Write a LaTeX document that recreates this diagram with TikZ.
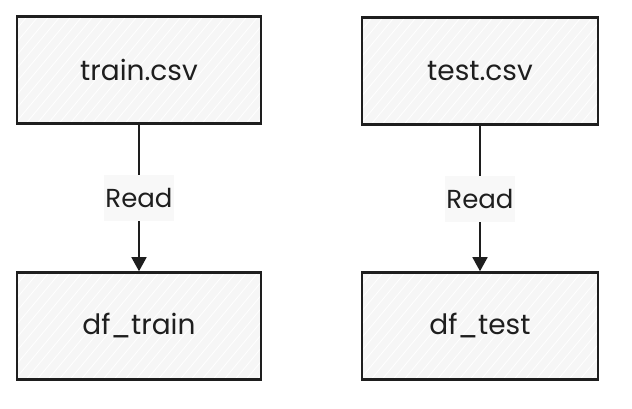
\documentclass[tikz,border=0pt]{standalone}
\usepackage{fontspec}
\setmainfont{Poppins}
\usetikzlibrary{arrows.meta}
\definecolor{ink}{HTML}{1E1E1E}
\definecolor{boxfill}{HTML}{F6F6F6}
\definecolor{lblfill}{HTML}{F8F8F8}
\tikzset{
  hatch/.style={white, line width=0.8pt},
  box/.style={draw=ink, line width=2.6pt, fill=boxfill, minimum height=107pt,
    font=\fontsize{28}{32}\selectfont, text=ink,
    path picture={
      \foreach \k in {0,...,40}{
        \draw[hatch] ([xshift=\k*11pt-200pt]path picture bounding box.south west) -- ++(200pt,240pt);
      }
    }},
  conn/.style={draw=ink, line width=1.6pt, -{Triangle[width=15pt,length=14pt]}},
  lbl/.style={fill=lblfill, font=\fontsize{26}{30}\selectfont, text=ink,
    minimum height=46pt, inner xsep=1pt, inner ysep=2pt}
}
\begin{document}
\begin{tikzpicture}[x=1pt,y=-1pt]
\useasboundingbox (0,0) rectangle (632,408);
\node[box, minimum width=244pt] (train) at (139,70) {train.csv};
\node[box, minimum width=236pt] (test) at (480,71) {test.csv};
\node[box, minimum width=244pt] (dftrain) at (139,326) {df\_train};
\node[box, minimum width=236pt] (dftest) at (480,326) {df\_test};
\draw[conn] (train) -- node[lbl] (r1) {Read} (dftrain);
\draw[conn] (test) -- node[lbl] (r2) {Read} (dftest);
\end{tikzpicture}
\end{document}
